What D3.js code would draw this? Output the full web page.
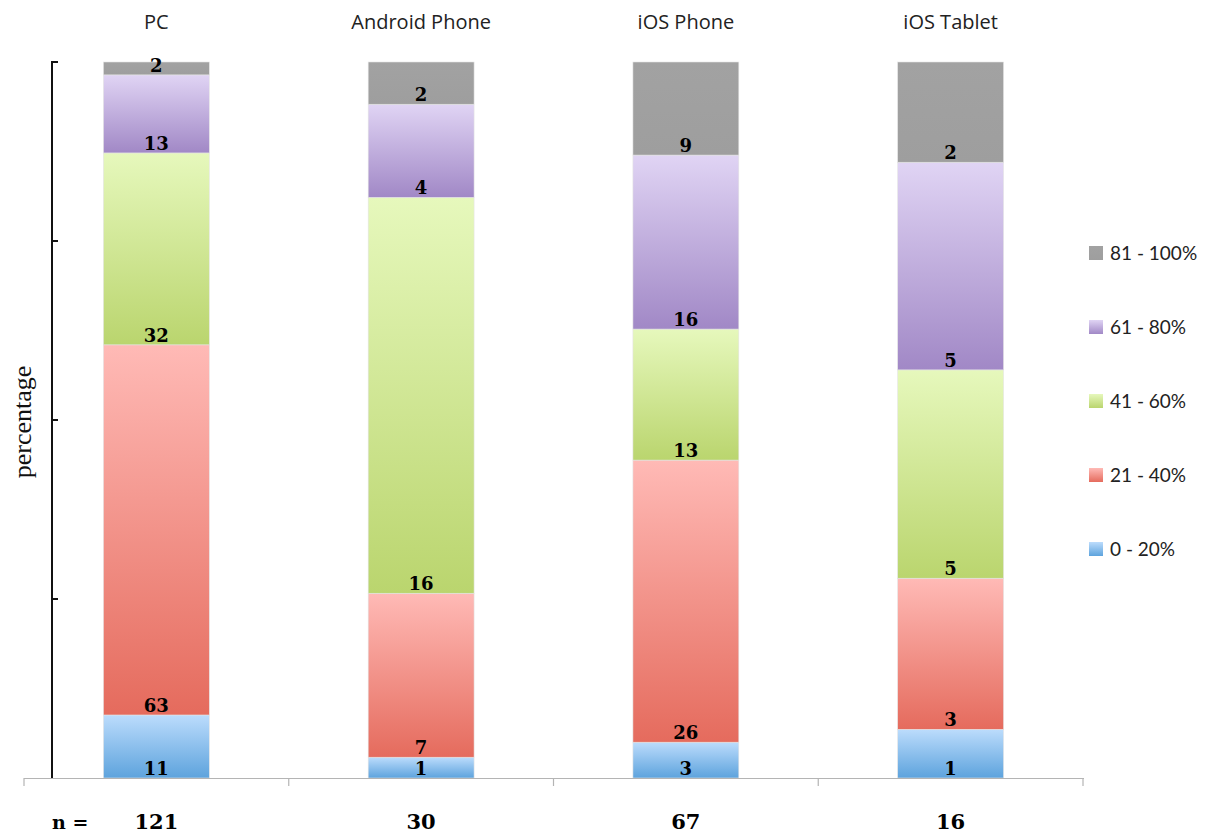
<!DOCTYPE html>
<html lang="en">
<head>
  <meta charset="UTF-8" />
  <title>Device share stacked bars</title>
  <script src="https://d3js.org/d3.v7.min.js"></script>
  <style>
    body { margin: 0; background: #fff; }
  </style>
</head>
<body>
  <svg id="chart" width="1211" height="834"></svg>
  <script>
    const categories = ["PC", "Android Phone", "iOS Phone", "iOS Tablet"];
    const seriesNames = ["0 - 20%", "21 - 40%", "41 - 60%", "61 - 80%", "81 - 100%"];
    // labels shown on the segments (counts)
    const counts0to20 = [11, 1, 3, 1];
    const counts21to40 = [63, 7, 26, 3];
    const counts41to60 = [32, 16, 13, 5];
    const counts61to80 = [13, 4, 16, 5];
    const counts81to100 = [2, 2, 9, 2];
    // segment heights in percent
    const pct0to20 = [8.8, 2.9, 5.0, 6.8];
    const pct21to40 = [51.7, 22.9, 39.4, 21.1];
    const pct41to60 = [26.8, 55.3, 18.3, 29.1];
    const pct61to80 = [10.9, 13.0, 24.3, 29.0];
    const pct81to100 = [1.8, 5.9, 13.0, 14.0];
    const sampleSizes = [121, 30, 67, 16];
    const yTicks = [0, 0.25, 0.5, 0.75, 1];

    // top / bottom gradient colours per series
    const gradTop = ["#bcdcfc", "#ffbab6", "#e6f8bc", "#e0d4f4", "#a2a2a2"];
    const gradBottom = ["#5da3dd", "#e56b5d", "#bad56e", "#a188c6", "#9e9e9e"];

    const countValues = [counts0to20, counts21to40, counts41to60, counts61to80, counts81to100];
    const pctValues = [pct0to20, pct21to40, pct41to60, pct61to80, pct81to100];
    const rows = categories.map((c, i) => {
      const row = { cat: c, n: sampleSizes[i], counts: {} };
      seriesNames.forEach((s, j) => {
        row[s] = pctValues[j][i];
        row.counts[s] = countValues[j][i];
      });
      return row;
    });

    const svg = d3.select("#chart");
    const x = d3.scaleBand().domain(categories).range([24, 1083]).paddingInner(0.6).paddingOuter(0.3);
    const xOuter = d3.scaleBand().domain(categories).range([24, 1083]);
    const y = d3.scaleLinear().domain([0, 1]).range([778, 62]);

    const stack = d3.stack().keys(seriesNames).offset(d3.stackOffsetExpand);
    const layers = stack(rows);

    const defs = svg.append("defs");
    seriesNames.forEach((s, j) => {
      const g = defs.append("linearGradient")
        .attr("id", "grad" + j)
        .attr("x1", 0).attr("y1", 0).attr("x2", 0).attr("y2", 1);
      g.append("stop").attr("offset", "0%").attr("stop-color", gradTop[j]);
      g.append("stop").attr("offset", "100%").attr("stop-color", gradBottom[j]);
    });

    // bars
    const layerG = svg.selectAll(".layer")
      .data(layers)
      .enter()
      .append("g")
      .attr("class", "layer")
      .attr("fill", d => `url(#grad${d.index})`);

    layerG.selectAll("rect")
      .data(d => d)
      .enter()
      .append("rect")
      .attr("x", d => x(d.data.cat))
      .attr("y", d => y(d[1]))
      .attr("width", x.bandwidth())
      .attr("height", d => y(d[0]) - y(d[1]))
      .attr("stroke", "#e4e4e4")
      .attr("stroke-width", 0.6);

    // value labels, inside base of each segment
    layerG.selectAll("text")
      .data(d => d.map(p => ({ p, key: d.key })))
      .enter()
      .append("text")
      .attr("x", d => x(d.p.data.cat) + x.bandwidth() / 2)
      .attr("y", d => y(d.p[0]) - 3)
      .attr("text-anchor", "middle")
      .attr("font-family", "'DejaVu Serif', 'Liberation Serif', serif")
      .attr("font-weight", "bold")
      .attr("font-size", 18)
      .attr("fill", "#000")
      .text(d => d.p.data.counts[d.key]);

    // x axis line with category boundary ticks
    svg.append("line")
      .attr("x1", 24).attr("x2", 1084)
      .attr("y1", 778.5).attr("y2", 778.5)
      .attr("stroke", "#b4b4b4").attr("stroke-width", 1.2);
    const bounds = categories.map(c => xOuter(c)).concat([xOuter.range()[1]]);
    svg.selectAll(".xtick")
      .data(bounds)
      .enter()
      .append("line")
      .attr("x1", d => d).attr("x2", d => d)
      .attr("y1", 778).attr("y2", 786)
      .attr("stroke", "#b4b4b4").attr("stroke-width", 1.2);

    // category labels on top
    svg.selectAll(".cat")
      .data(categories)
      .enter()
      .append("text")
      .attr("x", d => x(d) + x.bandwidth() / 2)
      .attr("y", 29)
      .attr("text-anchor", "middle")
      .attr("font-family", "'Open Sans', Lato, sans-serif")
      .attr("font-size", 20)
      .attr("fill", "#222")
      .text(d => d);

    // y axis (bracket style, no labels)
    svg.append("line")
      .attr("x1", 52).attr("x2", 52)
      .attr("y1", y(1)).attr("y2", y(0))
      .attr("stroke", "#111").attr("stroke-width", 2);
    svg.selectAll(".ytick")
      .data(yTicks.filter(t => t > 0))
      .enter()
      .append("line")
      .attr("x1", 51).attr("x2", 58)
      .attr("y1", d => y(d)).attr("y2", d => y(d))
      .attr("stroke", "#111").attr("stroke-width", 2);

    svg.append("text")
      .attr("transform", `translate(31, ${y(0.5) + 2}) rotate(-90)`)
      .attr("text-anchor", "middle")
      .attr("font-family", "'Liberation Serif', 'DejaVu Serif', serif")
      .attr("font-size", 26)
      .attr("fill", "#111")
      .text("percentage");

    // n row
    svg.append("text")
      .attr("x", 52).attr("y", 829)
      .attr("font-family", "'DejaVu Serif', 'Liberation Serif', serif")
      .attr("font-weight", "bold")
      .attr("font-size", 19)
      .text("n =");
    svg.selectAll(".ntext")
      .data(rows)
      .enter()
      .append("text")
      .attr("x", d => x(d.cat) + x.bandwidth() / 2)
      .attr("y", 829)
      .attr("text-anchor", "middle")
      .attr("font-family", "'DejaVu Serif', 'Liberation Serif', serif")
      .attr("font-weight", "bold")
      .attr("font-size", 21)
      .text(d => d.n);

    // legend, top series first
    const legendItems = seriesNames.map((s, j) => ({ s, j })).reverse();
    const lg = svg.selectAll(".legend")
      .data(legendItems)
      .enter()
      .append("g")
      .attr("transform", (d, i) => `translate(1089, ${253 + i * 74})`);
    lg.append("rect")
      .attr("x", 0).attr("y", -7)
      .attr("width", 14).attr("height", 14)
      .attr("fill", d => `url(#grad${d.j})`);
    lg.append("text")
      .attr("x", 21).attr("y", 7)
      .attr("font-family", "Lato, 'Open Sans', sans-serif")
      .attr("font-size", 19)
      .attr("fill", "#222")
      .text(d => d.s);
  </script>
</body>
</html>
